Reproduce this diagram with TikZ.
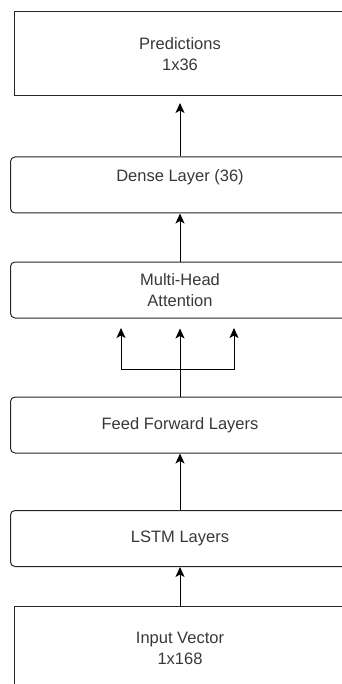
\documentclass[tikz,border=0pt]{standalone}
\usepackage{fontspec}
\setmainfont{Liberation Sans}
\usetikzlibrary{arrows.meta}
\begin{document}
\begin{tikzpicture}[x=1pt,y=-1pt,
  every node/.style={font=\fontsize{16.5pt}{21pt}\selectfont, text=black!78, align=center, inner sep=0pt},
  sharpbox/.style={draw=black!85, line width=1pt, minimum width=332pt, minimum height=84pt},
  roundbox/.style={draw=black!85, line width=1pt, rounded corners=4.5pt, minimum width=339pt, minimum height=56pt},
  arr/.style={draw=black, line width=1pt, -{Stealth[length=10pt,width=9pt,inset=2.5pt]}}
]
\useasboundingbox (0,0) rectangle (342,684);
\clip (0,0) rectangle (342,684);
\node[sharpbox] (pred) at (180,54) {Predictions\\1x36};
\node[roundbox] (dense) at (180,185) {};
\node (denselabel) at (180,177) {Dense Layer (36)};
\node[roundbox] (mha) at (180,290) {Multi-Head\\Attention};
\node[roundbox] (ff) at (180,425) {Feed Forward Layers};
\node[roundbox] (lstm) at (180,538.5) {LSTM Layers};
\node[sharpbox] (inp) at (180,648.5) {Input Vector\\1x168};
\draw[arr, shorten >=6.5pt] (dense.north) -- (pred.south);
\draw[arr] (mha.north) -- (dense.south);
\draw[arr, shorten >=10pt] (ff.north) -- (mha.south);
\coordinate (junc) at (180,369);
\coordinate (tipl) at (121,328);
\coordinate (tipr) at (234,328);
\draw[arr] (junc) -| (tipl);
\draw[arr] (junc) -| (tipr);
\draw[arr] (lstm.north) -- (ff.south);
\draw[arr] (inp.north) -- (lstm.south);
\end{tikzpicture}
\end{document}
